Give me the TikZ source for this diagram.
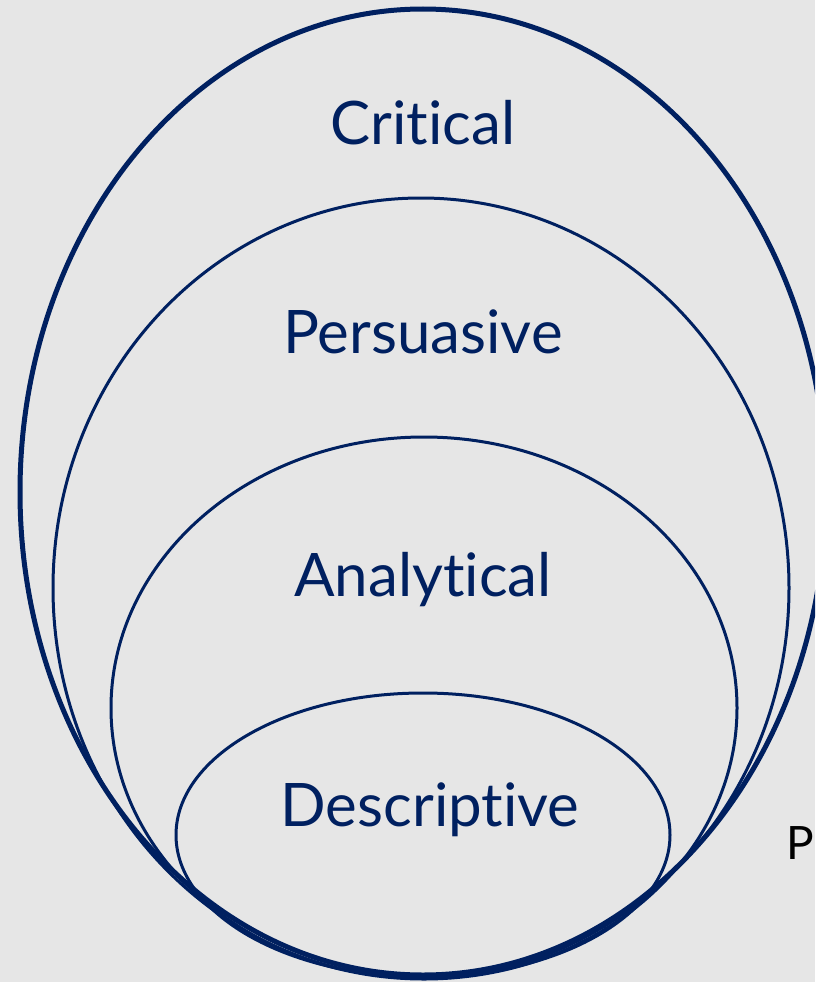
\documentclass[tikz,border=0pt]{standalone}
\usepackage{fontspec}
\setmainfont{Lato}[Ligatures={NoCommon,NoDiscretionary}]
\usepackage{tikz}
\definecolor{navy}{HTML}{002060}
\definecolor{paper}{HTML}{E6E6E6}

\begin{document}
\begin{tikzpicture}[x=1pt, y=-1pt, ring/.style={draw=navy, line width=3pt},
    lvl/.style={text=navy, font=\fontsize{60}{68}\selectfont, inner sep=0pt}]
    % Background
    \fill [paper] (0,0) rectangle (815,982);
    \useasboundingbox (0,0) rectangle (815,982);
    \clip (0,0) rectangle (815,982);

    % Rings
    \draw [ring, line width=5pt] (423,492) ellipse [x radius=403, y radius=483];
    \draw [ring] (421,588) ellipse [x radius=368, y radius=390];
    \draw [ring] (424,708) ellipse [x radius=313, y radius=271];
    \draw [ring] (423,835) ellipse [x radius=247, y radius=142];

    % Labels
    \node [lvl] (crit) at (423,123) {Critical};
    \node [lvl] (pers) at (423,332) {Persuasive};
    \node [lvl] (anal) at (423,580) {Analytical};
    \node [lvl] (desc) at (430,810) {Descriptive};
    \node [anchor=west, inner sep=0pt, font=\fontsize{46}{50}\selectfont] (cut) at (786,843) {P};
\end{tikzpicture}
\end{document}
